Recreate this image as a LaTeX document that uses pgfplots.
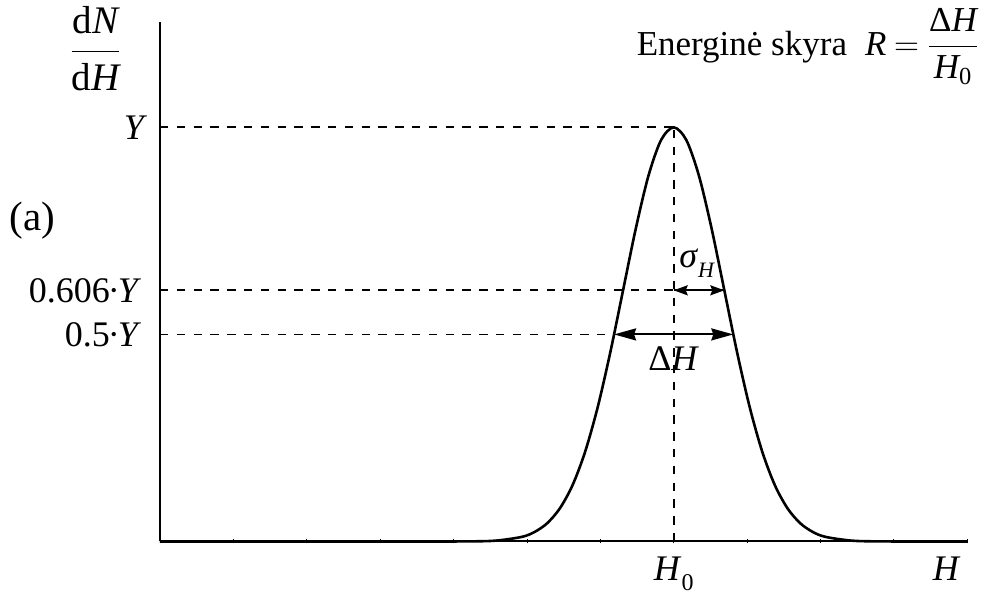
\documentclass[border=0pt]{standalone}
\usepackage{amsmath}
\usepackage{fontspec}
\setmainfont{Liberation Serif}
\usepackage{pgfplots}
\pgfplotsset{compat=1.18}
\usetikzlibrary{arrows.meta}
\pgfplotstableread{
x y
0 0
3.00 0
3.55 0.0000
4.24 0.0003
4.585 0.0022
4.93 0.0111
5.1025 0.0228
5.275 0.0439
5.4475 0.0796
5.62 0.1353
5.7925 0.2163
5.965 0.3247
6.1375 0.4578
6.31 0.6065
6.4825 0.7548
6.655 0.8825
6.8275 0.9692
7.00 1.0000
7.1725 0.9692
7.345 0.8825
7.5175 0.7548
7.69 0.6065
7.8625 0.4578
8.035 0.3247
8.2075 0.2163
8.38 0.1353
8.5525 0.0796
8.725 0.0439
8.8975 0.0228
9.07 0.0111
9.415 0.0022
9.76 0.0003
10.45 0.0000
11.00 0
}\gauss
\begin{document}
\begin{tikzpicture}[font=\fontsize{18}{21}\selectfont]
\begin{axis}[
  scale only axis,
  width=403.5pt, height=259.5pt,
  xmin=0, xmax=11, ymin=0, ymax=1.2536,
  axis lines=left,
  axis line style={-, line width=1pt},
  xtick={0,1,...,11}, xticklabels={},
  ytick=\empty,
  major tick length=2pt,
  tick style={line width=0.4pt, black},
  clip=false,
]
\path (axis cs:-2.18,-0.133) rectangle (axis cs:11.31,1.307);
% dashed guide lines
\addplot[black, line width=0.9pt, dash pattern=on 4.2pt off 4.2pt] coordinates {(0,1) (7,1)};
\addplot[black, line width=0.9pt, dash pattern=on 4.2pt off 4.2pt] coordinates {(0,0.6065) (7,0.6065)};
\addplot[black, line width=0.9pt, dash pattern=on 4.2pt off 4.2pt] coordinates {(0,0.5) (6.1876,0.5)};
\addplot[black, line width=0.9pt, dash pattern=on 4.2pt off 4.2pt] coordinates {(7,0) (7,1)};
% gaussian
\addplot[black, line width=1.3pt, smooth, tension=0.5] table[x=x,y=y] {\gauss};
% arrows
\addplot[black, line width=1pt, {Stealth[length=11pt,width=6pt,inset=1pt]}-{Stealth[length=11pt,width=6pt,inset=1pt]}] coordinates {(6.1876,0.5) (7.8124,0.5)};
\addplot[black, line width=1pt, -{Stealth[length=7pt,width=5pt,inset=1pt]}] coordinates {(7,0.6065) (7.69,0.6065)};
\addplot[black, line width=1pt, -{Stealth[length=7pt,width=5pt,inset=1pt]}] coordinates {(7.69,0.6065) (7,0.6065)};
% labels
\node[anchor=east] at (axis cs:-0.08,1) {\textit{Y}};
\node[anchor=east] at (axis cs:-0.16,0.6065) {0.606\kern-1pt·\kern-1pt\textit{Y}};
\node[anchor=east] at (axis cs:-0.16,0.5) {0.5\kern-1pt·\kern-1pt\textit{Y}};
\node[font=\fontsize{20.5}{24}\selectfont] at (axis cs:-1.74,0.775) {(a)};
\node at (axis cs:-0.88,1.19) {\fontsize{19.5}{23}\selectfont$\dfrac{\textrm{d}\textit{N}}{\textrm{d}\textit{H}}$};
\node[anchor=base east, inner sep=0pt, font=\fontsize{17.5}{21}\selectfont] at (axis cs:11.17,1.174) {Energinė skyra\hspace{9pt}$\textit{R}\mkern4mu{=}\mkern4mu\dfrac{\textrm{Δ}\textit{H}}{\textit{H}_{\textrm{0}}}$};
\node[anchor=base] at (axis cs:7,-0.094) {\textit{H}\raisebox{-5pt}{\fontsize{12}{14}\selectfont 0}};
\node[anchor=base] at (axis cs:10.72,-0.094) {\textit{H}};
\node[anchor=base] at (axis cs:7.32,0.662) {\textit{σ}\raisebox{-5pt}{\fontsize{11}{13}\selectfont\textit{H}}};
\node[anchor=base] at (axis cs:7,0.413) {Δ\textit{H}};
\end{axis}
\end{tikzpicture}
\end{document}
